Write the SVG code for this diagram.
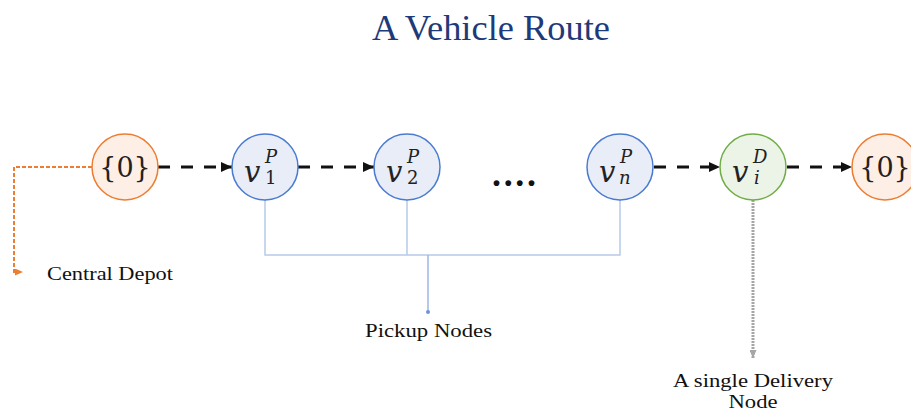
<svg xmlns="http://www.w3.org/2000/svg" width="911" height="412" viewBox="0 0 911 412">
  <style>
    .title { font-family: "Liberation Serif", "Times New Roman", serif; font-size: 35px; fill: #1f3a78; }
    .label { font-family: "Liberation Serif", "Times New Roman", serif; font-size: 19px; fill: #111; }
    .depot circle { fill: #fdeee6; stroke: #ed7d31; stroke-width: 1.5; }
    .pick circle { fill: #e8edf7; stroke: #4a7bd0; stroke-width: 1.5; }
    .deliv circle { fill: #ebf4e6; stroke: #70ad47; stroke-width: 1.5; }
    .set { font-family: "DejaVu Serif", "Liberation Serif", serif; font-size: 27px; fill: #222; }
    .mv { font-family: "DejaVu Serif", "Liberation Serif", serif; font-style: italic; font-size: 29px; fill: #222; }
    .mi { font-family: "DejaVu Serif", "Liberation Serif", serif; font-style: italic; font-size: 18px; fill: #222; }
    .md { font-family: "DejaVu Serif", "Liberation Serif", serif; font-size: 18px; fill: #222; }
    .route { stroke: #111; stroke-width: 3; stroke-dasharray: 12 11; fill: none; marker-end: url(#ah); }
    .bracket { stroke: #b8cae9; stroke-width: 1.5; fill: none; }
  </style>
  <defs>
    <marker id="ah" markerUnits="userSpaceOnUse" markerWidth="11" markerHeight="10" refX="11" refY="5" orient="auto">
      <path d="M0,0 L11,5 L0,10 Z" fill="#111"/>
    </marker>
    <marker id="ahOrange" markerUnits="userSpaceOnUse" markerWidth="8" markerHeight="7" refX="8" refY="3.5" orient="auto">
      <path d="M0,0 L8,3.5 L0,7 Z" fill="#ed7d31"/>
    </marker>
    <marker id="ahGray" markerUnits="userSpaceOnUse" markerWidth="8" markerHeight="7" refX="8" refY="3.5" orient="auto">
      <path d="M0,0 L8,3.5 L0,7 Z" fill="#a6a6a6"/>
    </marker>
  </defs>

  <text class="title" x="491" y="40" text-anchor="middle" textLength="238" lengthAdjust="spacingAndGlyphs">A Vehicle Route</text>

  <!-- connectors -->
  <g id="connectors">
    <path class="route" d="M158,167 H232"/>
    <path class="route" d="M298,167 H374"/>
    <path class="route" d="M654,167 H720"/>
    <path class="route" d="M787,167 H852"/>
    <!-- depot callout -->
    <path d="M92,167 H14 V272 H23" stroke="#ed7d31" stroke-width="2" stroke-dasharray="4 2" fill="none" marker-end="url(#ahOrange)"/>
    <!-- pickup bracket -->
    <path class="bracket" d="M265,200 V255 H620 V200 M407,200 V255"/>
    <path d="M428,255 V312" stroke="#9fb7e3" stroke-width="1.5" fill="none"/>
    <circle cx="428" cy="312" r="2" fill="#6f95d8"/>
    <!-- delivery callout -->
    <path d="M753,200 V358" stroke="#a6a6a6" stroke-width="3" stroke-dasharray="2 1" fill="none" marker-end="url(#ahGray)"/>
  </g>

  <g id="depot-start" class="depot">
    <circle cx="125" cy="167" r="33"/>
    <text class="set" x="125" y="177" text-anchor="middle">{0}</text>
  </g>

  <g id="pickup-1" class="pick">
    <circle cx="265" cy="167" r="33"/>
    <text class="mv" x="244" y="182">v</text>
    <text class="mi" x="265" y="163">P</text>
    <text class="md" x="265" y="184">1</text>
  </g>

  <g id="pickup-2" class="pick">
    <circle cx="407" cy="167" r="33"/>
    <text class="mv" x="386" y="182">v</text>
    <text class="mi" x="407" y="163">P</text>
    <text class="md" x="407" y="184">2</text>
  </g>

  <text id="ellipsis" x="514" y="186" text-anchor="middle" font-family="Liberation Serif, serif" font-weight="bold" font-size="36" fill="#111" textLength="44" lengthAdjust="spacing">....</text>

  <g id="pickup-n" class="pick">
    <circle cx="620" cy="167" r="33"/>
    <text class="mv" x="599" y="182">v</text>
    <text class="mi" x="620" y="163">P</text>
    <text class="mi" x="619" y="184">n</text>
  </g>

  <g id="delivery-i" class="deliv">
    <circle cx="753" cy="167" r="33"/>
    <text class="mv" x="732" y="182">v</text>
    <text class="mi" x="753" y="163">D</text>
    <text class="mi" x="754" y="184">i</text>
  </g>

  <g id="depot-end" class="depot">
    <circle cx="885" cy="167" r="33"/>
    <text class="set" x="885" y="177" text-anchor="middle">{0}</text>
  </g>

  <text class="label" x="47" y="280" textLength="126" lengthAdjust="spacingAndGlyphs">Central Depot</text>
  <text class="label" x="365" y="337" textLength="127" lengthAdjust="spacingAndGlyphs">Pickup Nodes</text>
  <text class="label" x="753" y="387" text-anchor="middle" textLength="160" lengthAdjust="spacingAndGlyphs">A single Delivery</text>
  <text class="label" x="753" y="408" text-anchor="middle" textLength="49" lengthAdjust="spacingAndGlyphs">Node</text>
</svg>
